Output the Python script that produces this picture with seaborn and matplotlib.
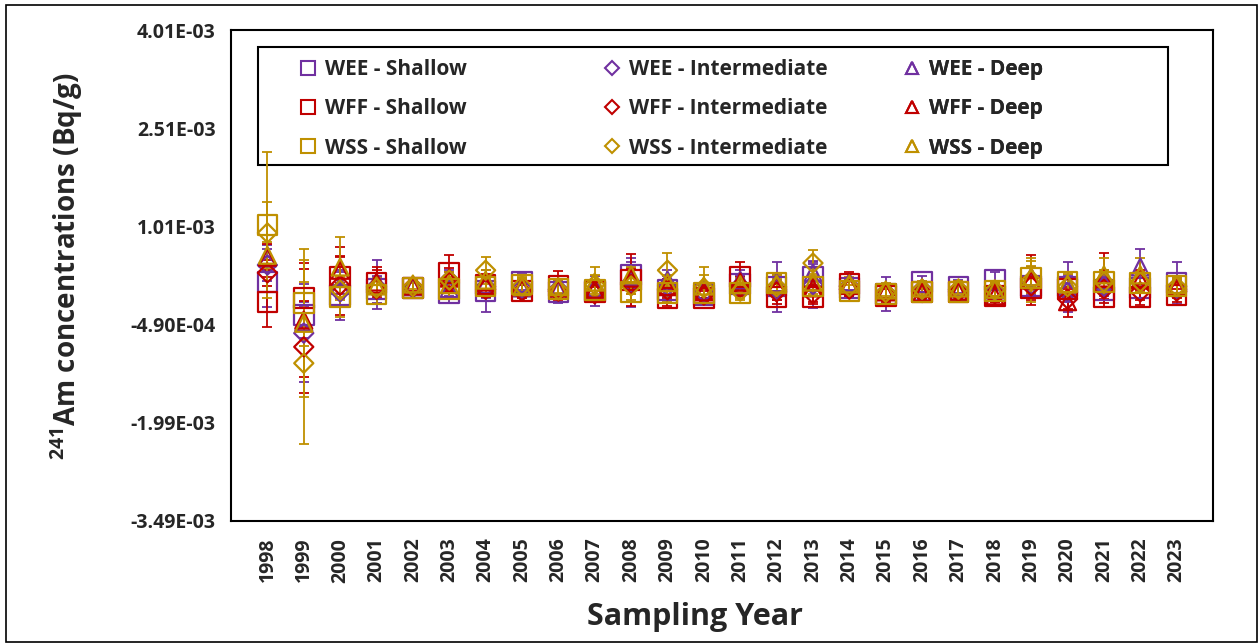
import numpy as np
import pandas as pd
import matplotlib
matplotlib.use("Agg")
import matplotlib.pyplot as plt
from matplotlib.lines import Line2D
from matplotlib.patches import Rectangle
import seaborn as sns

# Sampling years
years = list(range(1998, 2024))

# 241Am concentrations, in units of 1e-4 Bq/g
wee_shallow = [1.6, -3.4, -0.4, 0.5, 0.7, -0.1, 0.2, 1.6, 0.1, 0.2, 2.7, 0.4, -0.4,
               1.3, 0.9, 2.4, 0.7, -0.2, 1.6, 0.9, 1.9, 1.0, 0.9, 0.4, 0.7, 1.5]
wee_shallow_err = [3.8, 2.0, 3.8, 2.1, 0.8, 1.5, 3.2, 1.2, 1.7, 2.3, 2.0, 1.5, 1.2,
                   1.5, 3.8, 2.0, 1.4, 2.6, 1.0, 1.0, 1.2, 1.5, 3.8, 1.5, 1.5, 3.2]
wee_int = [4.2, -6.2, 0.1, 0.9, 0.7, 1.9, 0.9, 0.7, 0.5, 0.2, 1.5, 1.0, 0.0,
           1.0, 0.4, 1.2, 1.0, 0.0, 0.5, 0.4, 0.2, 1.2, 0.0, 0.9, 1.6, 0.5]
wee_int_err = [2.5, 7.5, 2.0, 1.5, 0.8, 1.5, 1.8, 1.2, 1.2, 1.2, 3.7, 1.5, 1.0,
               1.5, 1.5, 3.5, 1.2, 1.0, 1.0, 1.0, 1.0, 1.5, 1.5, 1.5, 1.5, 1.2]
wee_deep = [5.3, -4.5, 1.1, 1.2, 0.9, 0.6, 1.2, 0.7, 0.4, 0.5, 2.4, 1.9, 0.2,
            1.9, 1.5, 3.0, 1.6, 0.2, 0.1, 0.2, 0.4, 2.4, 1.2, 1.9, 3.9, 1.0]
wee_deep_err = [2.0, 2.5, 2.0, 3.7, 0.8, 1.2, 1.5, 1.2, 1.0, 1.0, 1.8, 1.5, 1.0,
                1.5, 1.2, 1.8, 1.2, 1.0, 1.0, 1.0, 1.0, 1.5, 1.5, 1.5, 2.7, 1.2]

wff_shallow = [-1.4, -0.8, 2.4, 1.5, 0.7, 3.0, 1.2, 0.2, 1.0, 0.1, 1.9, -0.8, -0.8,
               2.4, -0.7, -0.7, 1.3, -0.5, 0.1, 0.1, -0.5, 0.7, 0.5, -0.7, -0.7, -0.4]
wff_shallow_err = [3.8, 4.4, 4.6, 2.4, 0.8, 2.7, 1.5, 1.0, 2.3, 1.0, 4.0, 1.2, 1.0,
                   2.3, 1.0, 1.0, 1.8, 1.0, 1.0, 1.0, 1.0, 1.8, 1.5, 1.5, 1.2, 1.0]
wff_int = [3.0, -8.3, 1.1, 0.5, 0.9, 1.6, 0.5, 0.2, 0.2, -0.2, 1.2, 0.4, -0.4,
           0.9, 0.1, -0.2, 0.5, -0.2, 0.0, 0.1, -0.2, 1.0, -1.0, 0.5, 0.1, 0.2]
wff_int_err = [2.0, 7.0, 4.5, 1.5, 0.8, 1.5, 1.2, 1.0, 1.0, 1.0, 1.5, 1.2, 1.0,
               1.5, 1.2, 1.2, 1.2, 1.0, 1.0, 1.0, 1.0, 1.5, 1.5, 1.5, 1.2, 1.0]
wff_deep = [5.4, -4.2, 3.4, 1.6, 1.0, 2.2, 1.6, 0.9, 0.7, 0.5, 2.2, 0.9, 0.1,
            1.6, 1.2, 0.7, 1.2, 0.1, 0.0, 0.2, -0.5, 1.9, -1.4, 2.2, 1.9, 1.0]
wff_deep_err = [2.0, 8.7, 2.0, 1.8, 0.8, 1.5, 1.2, 1.0, 1.0, 1.0, 1.5, 1.2, 1.0,
                1.2, 1.2, 1.2, 1.0, 1.0, 1.0, 1.0, 1.0, 3.8, 2.3, 3.8, 1.5, 1.0]

wss_shallow = [10.3, -1.6, -0.7, -0.3, 0.7, 0.5, 0.9, 1.2, 0.5, 0.4, 0.1, -0.1, -0.1,
               -0.1, 1.5, 0.9, 0.2, -0.2, 0.1, 0.1, 0.2, 2.2, 1.6, 1.6, 1.5, 1.0]
wss_shallow_err = [11.2, 6.6, 3.1, 1.5, 0.8, 1.2, 1.2, 1.2, 1.0, 1.0, 1.2, 1.2, 1.0,
                   1.0, 1.2, 1.2, 1.0, 1.0, 1.0, 1.0, 1.0, 1.8, 1.5, 1.5, 1.5, 1.2]
wss_int = [9.1, -10.8, 0.4, 0.7, 0.9, 1.9, 3.4, 1.0, 0.4, 1.2, 1.0, 3.4, 0.7,
           0.2, 0.9, 4.5, 0.9, 0.0, 0.5, 0.5, 0.4, 1.9, 0.9, 1.6, 1.6, 0.9]
wss_int_err = [4.7, 12.4, 1.5, 1.2, 0.8, 1.2, 2.1, 1.2, 1.0, 1.5, 1.2, 2.6, 2.0,
               1.0, 1.2, 2.0, 1.0, 1.0, 1.0, 1.0, 1.0, 3.4, 1.5, 1.8, 1.5, 1.2]
wss_deep = [5.7, -4.7, 3.9, 1.0, 1.3, 1.2, 1.9, 0.9, 0.9, 1.6, 2.7, 1.5, 1.0,
            1.2, 1.3, 1.6, 1.3, 0.4, 0.7, 0.7, 0.5, 2.4, 1.3, 2.7, 2.7, 1.2]
wss_deep_err = [2.0, 11.3, 4.6, 1.2, 0.8, 1.2, 1.5, 1.2, 1.0, 2.3, 1.2, 1.2, 2.9,
                1.0, 1.2, 1.2, 1.0, 1.0, 1.0, 1.0, 1.0, 2.4, 1.5, 2.6, 2.6, 1.2]

# y axis ticks as printed on the chart
y_ticks = [-3.49e-3, -1.99e-3, -4.90e-4, 1.01e-3, 2.51e-3, 4.01e-3]
y_tick_labels = ["-3.49E-03", "-1.99E-03", "-4.90E-04", "1.01E-03", "2.51E-03", "4.01E-03"]

sites = ["WEE", "WFF", "WSS"]
depths = ["Shallow", "Intermediate", "Deep"]
series = {
    ("WEE", "Shallow"): (wee_shallow, wee_shallow_err),
    ("WEE", "Intermediate"): (wee_int, wee_int_err),
    ("WEE", "Deep"): (wee_deep, wee_deep_err),
    ("WFF", "Shallow"): (wff_shallow, wff_shallow_err),
    ("WFF", "Intermediate"): (wff_int, wff_int_err),
    ("WFF", "Deep"): (wff_deep, wff_deep_err),
    ("WSS", "Shallow"): (wss_shallow, wss_shallow_err),
    ("WSS", "Intermediate"): (wss_int, wss_int_err),
    ("WSS", "Deep"): (wss_deep, wss_deep_err),
}

rows = []
for (site, depth), (vals, errs) in series.items():
    for yr, v, e in zip(years, vals, errs):
        rows.append({"year": yr, "site": site, "depth": depth,
                     "value": v * 1e-4, "err": e * 1e-4})
df = pd.DataFrame(rows)

colors = {"WEE": "#7030A0", "WFF": "#C00000", "WSS": "#BF9000"}
markers = {"Shallow": "s", "Intermediate": "D", "Deep": "^"}
sizes = {"Shallow": 200, "Intermediate": 95, "Deep": 150}
leg_sizes = {"Shallow": 10, "Intermediate": 7, "Deep": 9}

sns.set_style("white")
plt.rcParams["font.family"] = ["Open Sans", "DejaVu Sans"]
plt.rcParams["font.weight"] = "bold"
plt.rcParams["mathtext.fontset"] = "custom"
plt.rcParams["mathtext.rm"] = "Open Sans:bold"
plt.rcParams["mathtext.default"] = "rm"

fig = plt.figure(figsize=(12.59, 6.44), dpi=100)
ax = fig.add_axes([0.1835, 0.191, 0.78, 0.7624])

# legend box sits behind the data (the 1998 error bar crosses it)
ax.add_patch(Rectangle((0.0275, 0.725), 0.9267, 0.2403, transform=ax.transAxes,
                       facecolor="white", edgecolor="black", linewidth=1.5, zorder=1))

for site in sites:
    for depth in depths:
        sub = df[(df["site"] == site) & (df["depth"] == depth)]
        c = colors[site]
        ax.errorbar(sub["year"], sub["value"], yerr=sub["err"], fmt="none",
                    ecolor=c, elinewidth=1.3, capsize=3.3, capthick=1.3, zorder=2)
        sns.scatterplot(data=sub, x="year", y="value", marker=markers[depth],
                        s=sizes[depth], facecolor="none", edgecolor=c,
                        linewidth=1.6, ax=ax, zorder=3)

ax.set_xlim(1997, 2024)
ax.set_ylim(y_ticks[0], y_ticks[-1])
ax.set_yticks(y_ticks)
ax.set_yticklabels(y_tick_labels, fontsize=14, fontweight="bold")
ax.set_xticks(years)
ax.set_xticklabels([str(y) for y in years], rotation=90, fontsize=14, fontweight="bold")
ax.set_xticks(list(range(1997, 2024, 2)), minor=True)
ax.tick_params(axis="x", which="major", length=0, pad=12)
ax.tick_params(axis="x", which="minor", length=6, width=1.3, direction="out", color="black")
ax.tick_params(axis="y", length=6, width=1.3, direction="out", color="black", pad=5)
ax.grid(False)
for sp in ax.spines.values():
    sp.set_visible(True)
    sp.set_color("black")
    sp.set_linewidth(1.5)

ax.set_xlabel("Sampling Year", fontsize=22, fontweight="bold")
ax.xaxis.set_label_coords(0.4725, -0.165)
ax.xaxis.label.set_va("top")
ax.set_ylabel(r"$^{241}$Am concentrations (Bq/g)", fontsize=20, fontweight="bold")
ax.yaxis.set_label_coords(-0.149, 0.52)

# legend: three columns inside the framed box
leg_x = [0.0682, 0.3778, 0.6833]
for i, depth in enumerate(depths):
    hs = [Line2D([], [], linestyle="none", marker=markers[depth],
                 markersize=leg_sizes[depth], markerfacecolor="none",
                 markeredgecolor=colors[s], markeredgewidth=1.5)
          for s in sites]
    labels = [f"{s} - {depth}" for s in sites]
    leg = ax.legend(hs, labels, loc="upper left", bbox_to_anchor=(leg_x[i], 0.941),
                    frameon=False, prop={"size": 15, "weight": "bold"},
                    handlelength=1.0, handletextpad=0.3, labelspacing=0.88,
                    borderpad=0, borderaxespad=0)
    leg.set_zorder(6)
    ax.add_artist(leg)

# outer border of the chart
fig.patches.append(Rectangle((6 / 1259, 2 / 644), 1251 / 1259, 0.9891,
                             transform=fig.transFigure, fill=False,
                             edgecolor="black", linewidth=1.2))

fig.savefig("out.png", dpi=100)
